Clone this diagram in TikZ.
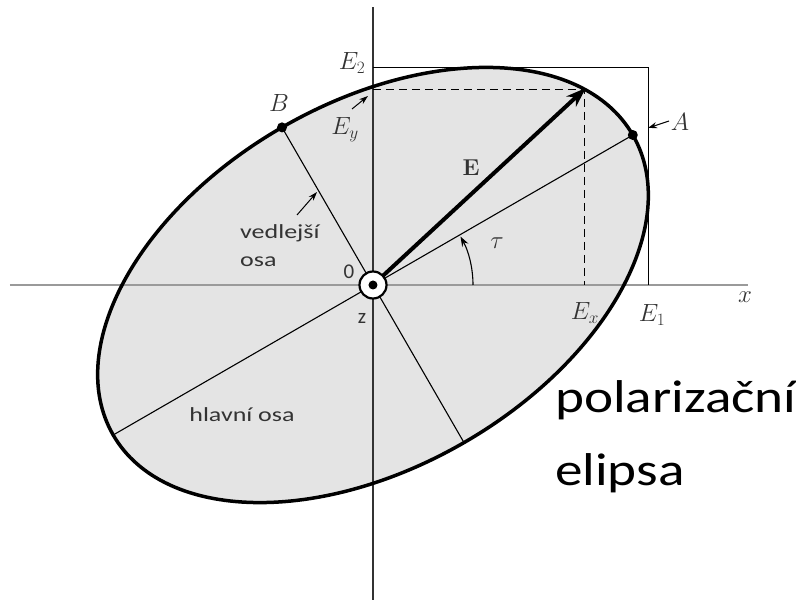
\documentclass[tikz,border=0pt]{standalone}
\usepackage{fontspec}
\newfontfamily\calfont{Carlito}
\usetikzlibrary{arrows.meta}
\definecolor{fillgray}{HTML}{E4E4E4}
\definecolor{axgray}{HTML}{9A9A9A}
\definecolor{txtgray}{HTML}{333333}
\newcommand{\widen}[1]{\scalebox{1.3}[1]{#1}}
\newcommand{\widenbig}[1]{\scalebox{1.2}[1]{#1}}
\tikzset{
  ellipseline/.style={line width=3.5pt},
  thinline/.style={line width=1.1pt},
  dashline/.style={line width=1.6pt, dash pattern=on 8pt off 5pt},
  pointer/.style={line width=1pt, -{Stealth[length=9pt,width=6pt]}},
  mathlbl/.style={font=\fontsize{23}{26}\selectfont, text=txtgray, inner sep=0pt},
  sanslbl/.style={font=\calfont\fontsize{20}{24}\selectfont, text=txtgray, inner sep=0pt},
  bigtxt/.style={font=\calfont\fontsize{46}{52}\selectfont, text=black, inner sep=0pt, anchor=west},
  dot/.style={circle, fill=black, inner sep=0pt, minimum size=10pt}
}
\begin{document}
\begin{tikzpicture}[x=1pt,y=1pt]
\useasboundingbox (-373,-319) rectangle (423,285);
% key points
\coordinate (O) at (0,0);
\begin{scope}[rotate=30]
  \coordinate (A) at (300,0);
  \coordinate (Amin) at (-300,0);
  \coordinate (B) at (0,182);
  \coordinate (Bmin) at (0,-182);
  \coordinate (P) at ({300*cos(20.5)},{182*sin(20.5)});
\end{scope}
\coordinate (E1) at (275.3,0);
\coordinate (E2) at (0,217.6);
\coordinate (C) at (275.3,217.6);
\coordinate (Ex) at (P |- O);
\coordinate (Ey) at (O |- P);
\coordinate (xl) at (-363,0);
\coordinate (xr) at (375,0);
\coordinate (yt) at (0,278);
\coordinate (yb) at (0,-315);
% ellipse fill
\fill[fillgray, rotate=30] (O) ellipse [x radius=300, y radius=182];
% axes
\draw[axgray, line width=2.4pt] (xl) -- (xr);
\draw[txtgray, line width=1.8pt] (yb) -- (yt);
% box
\draw[thinline] (E2) -- (C) -- (E1);
% dashed components
\draw[dashline] (Ey) -- (P) -- (Ex);
% axes of ellipse
\draw[thinline] (Amin) -- (A);
\draw[thinline] (Bmin) -- (B);
% ellipse outline
\draw[ellipseline, rotate=30] (O) ellipse [x radius=300, y radius=182];
% vector E
\draw[line width=4pt, -{Stealth[length=20pt,width=14pt]}, shorten >=-2pt] (O) -- (P);
% tau arc
\draw[thinline, -{Stealth[length=10pt,width=7pt]}] (100,0) arc[start angle=0, end angle=29, radius=100];
% origin symbol
\node[circle, draw=black, line width=2.2pt, fill=white, minimum size=27pt, inner sep=0pt] (Osym) at (O) {};
\node[dot, minimum size=9pt] (Odot) at (O) {};
% dots
\node[dot] (Adot) at (A) {};
\node[dot] (Bdot) at (B) {};
% labels
\node[mathlbl] (lE2) at (-21,222) {$E_2$};
\node[mathlbl] (lB) at (-94,182) {$B$};
\node[mathlbl] (lEy) at (-28,155) {$E_y$};
\node[mathlbl] (lA) at (307,163) {$A$};
\node[mathlbl, font=\fontsize{23}{26}\selectfont\bfseries] (lE) at (98,117) {E};
\node[mathlbl] (ltau) at (124,42) {$\tau$};
\node[mathlbl] (lEx) at (212,-28) {$E_x$};
\node[mathlbl] (lE1) at (279,-30) {$E_1$};
\node[mathlbl] (lx) at (372,-12) {$x$};
\node[sanslbl, font=\calfont\fontsize{21}{24}\selectfont] (l0) at (-24,13) {0};
\node[sanslbl, font=\calfont\fontsize{21}{24}\selectfont] (lz) at (-11,-33) {z};
\node[sanslbl, anchor=west] (lv1) at (-133,52) {\widen{vedlejší}};
\node[sanslbl, anchor=west] (lv2) at (-133,23) {\widen{osa}};
\node[sanslbl] (lh) at (-131,-130) {\widen{hlavní osa}};
\node[bigtxt] (lp1) at (182,-115) {\widenbig{polarizační}};
\node[bigtxt] (lp2) at (182,-188) {\widenbig{elipsa}};
% pointers
\coordinate (pEyS) at (-21,176);
\coordinate (pEyT) at (-5,189);
\draw[pointer] (pEyS) -- (pEyT);
\coordinate (pvS) at (-76,70);
\coordinate (pvT) at (-56,93);
\draw[pointer] (pvS) -- (pvT);
\coordinate (pAS) at (296,164);
\coordinate (pAT) at (275,157);
\draw[pointer] (pAS) -- (pAT);
\end{tikzpicture}
\end{document}
